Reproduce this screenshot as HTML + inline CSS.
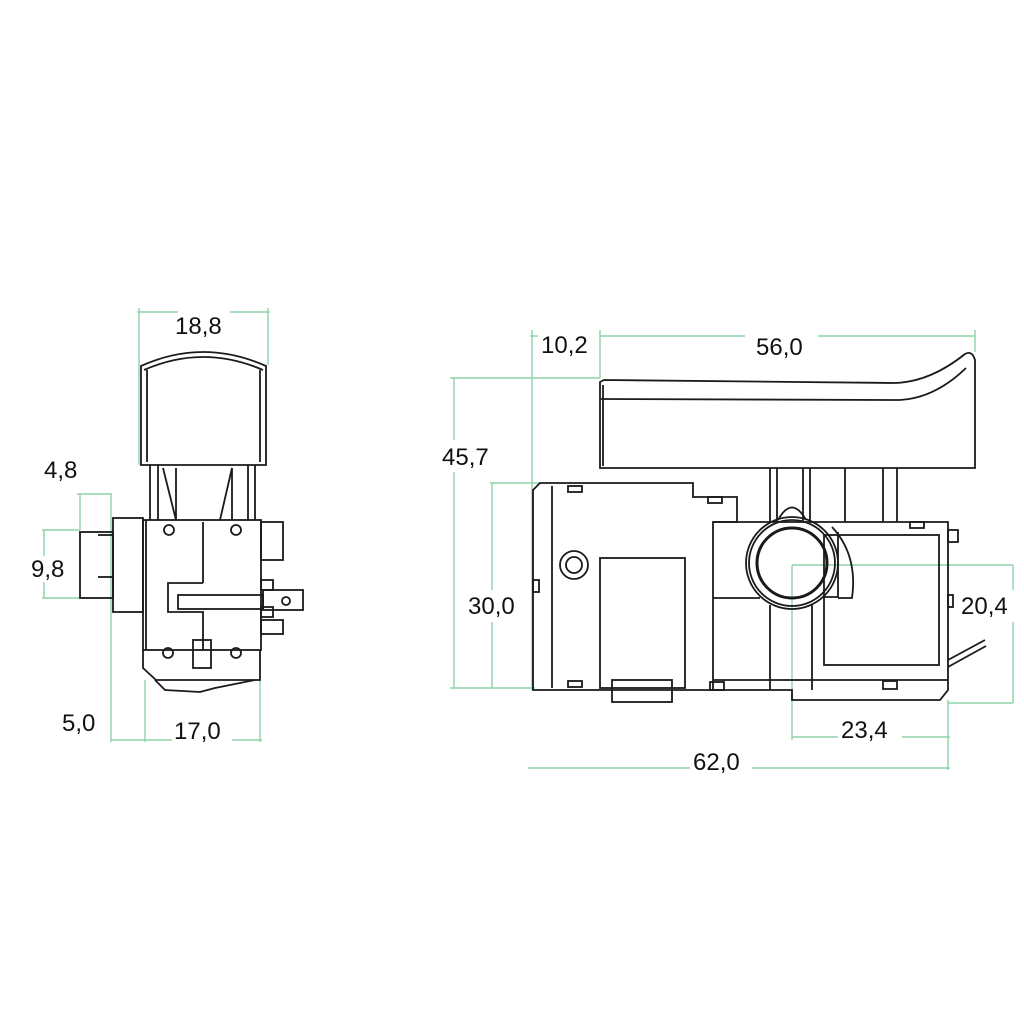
<!DOCTYPE html>
<html><head><style>
html,body{margin:0;padding:0;background:#fff;width:1024px;height:1024px;overflow:hidden}
svg{display:block}
text{font-family:"Liberation Sans",sans-serif;font-size:24px;fill:#111}
</style></head><body>
<svg width="1024" height="1024" viewBox="0 0 1024 1024">
<g stroke="#8fd3a8" stroke-width="1.4" fill="none">
<line x1="137" y1="312" x2="178" y2="312"/><line x1="230" y1="312" x2="270" y2="312"/>
<line x1="139" y1="308" x2="139" y2="465"/><line x1="268" y1="308" x2="268" y2="365"/>
<line x1="77" y1="494" x2="112" y2="494"/>
<line x1="80" y1="494" x2="80" y2="530"/><line x1="111" y1="494" x2="111" y2="742"/>
<line x1="42" y1="530" x2="80" y2="530"/><line x1="42" y1="598" x2="80" y2="598"/>
<line x1="44" y1="530" x2="44" y2="556"/><line x1="44" y1="582" x2="44" y2="598"/>
<line x1="145" y1="680" x2="145" y2="742"/><line x1="260" y1="680" x2="260" y2="742"/>
<line x1="110" y1="740" x2="172" y2="740"/><line x1="232" y1="740" x2="262" y2="740"/>
<line x1="530" y1="336" x2="538" y2="336"/><line x1="600" y1="336" x2="745" y2="336"/><line x1="818" y1="336" x2="975" y2="336"/>
<line x1="532" y1="330" x2="532" y2="690"/><line x1="600" y1="330" x2="600" y2="378"/><line x1="975" y1="330" x2="975" y2="352"/>
<line x1="450" y1="378" x2="600" y2="378"/>
<line x1="454" y1="378" x2="454" y2="440"/><line x1="454" y1="472" x2="454" y2="688"/>
<line x1="450" y1="688" x2="535" y2="688"/>
<line x1="490" y1="483" x2="540" y2="483"/>
<line x1="492" y1="483" x2="492" y2="590"/><line x1="492" y1="622" x2="492" y2="688"/>
<line x1="792" y1="565" x2="1013" y2="565"/><line x1="1013" y1="565" x2="1013" y2="590"/><line x1="1013" y1="622" x2="1013" y2="703"/>
<line x1="948" y1="703" x2="1013" y2="703"/>
<line x1="792" y1="565" x2="792" y2="740"/>
<line x1="948" y1="700" x2="948" y2="770"/>
<line x1="792" y1="737" x2="838" y2="737"/><line x1="902" y1="737" x2="950" y2="737"/>
<line x1="528" y1="768" x2="690" y2="768"/><line x1="752" y1="768" x2="950" y2="768"/>
</g>
<g>
<text x="175" y="334">18,8</text>
<text x="44" y="478">4,8</text>
<text x="31" y="577">9,8</text>
<text x="62" y="731">5,0</text>
<text x="174" y="739">17,0</text>
<text x="541" y="353">10,2</text>
<text x="756" y="355">56,0</text>
<text x="442" y="465">45,7</text>
<text x="468" y="614">30,0</text>
<text x="961" y="614">20,4</text>
<text x="841" y="738">23,4</text>
<text x="693" y="770">62,0</text>
</g>
<g stroke="#1a1a1a" stroke-width="1.8" fill="none">
<path d="M141 366 Q203 338 266 366 L266 465 L141 465 Z"/>
<path d="M144 370 Q203 344 263 370"/>
<line x1="147" y1="370" x2="147" y2="462"/><line x1="260" y1="370" x2="260" y2="462"/>
<line x1="150" y1="465" x2="150" y2="520"/><line x1="158" y1="465" x2="158" y2="520"/>
<line x1="248" y1="465" x2="248" y2="520"/><line x1="255" y1="465" x2="255" y2="520"/>
<path d="M163 468 L176 520 M176 468 L176 520 M232 468 L232 520 M232 468 L220 520"/>
<rect x="113" y="518" width="30" height="94"/>
<rect x="80" y="532" width="33" height="66"/>
<line x1="98" y1="535" x2="113" y2="535"/><line x1="98" y1="577" x2="113" y2="577"/>
<rect x="143" y="520" width="118" height="130"/>
<line x1="146" y1="520" x2="146" y2="650"/>
<line x1="203" y1="522" x2="203" y2="583"/>
<path d="M203 583 L168 583 L168 612 L203 612 L203 650"/>
<rect x="178" y="595" width="85" height="14"/>
<rect x="261" y="522" width="22" height="38"/>
<rect x="261" y="580" width="12" height="10"/><rect x="261" y="607" width="12" height="10"/>
<rect x="261" y="620" width="22" height="14"/>
<rect x="263" y="590" width="40" height="20"/>
<circle cx="286" cy="601" r="4"/>
<rect x="193" y="640" width="18" height="28"/>
<circle cx="169" cy="530" r="5"/><circle cx="236" cy="530" r="5"/>
<circle cx="168" cy="653" r="5"/><circle cx="236" cy="653" r="5"/>
<path d="M143 650 L143 668 L156 680 L260 680 L260 650"/>
<path d="M155 680 L165 690 L200 692 L215 688 L255 680"/>
<path d="M600 382 L600 468 L975 468 L975 360 Q972 350 965 354 Q930 382 895 383 L604 380 Z"/>
<path d="M601 399 L900 400 Q935 398 966 368"/>
<line x1="603" y1="385" x2="603" y2="466"/>
<line x1="770" y1="468" x2="770" y2="522"/><line x1="777" y1="468" x2="777" y2="522"/>
<line x1="803" y1="468" x2="803" y2="522"/><line x1="810" y1="468" x2="810" y2="522"/>
<line x1="845" y1="468" x2="845" y2="522"/><line x1="883" y1="468" x2="883" y2="522"/><line x1="897" y1="468" x2="897" y2="522"/>
<path d="M778 520 Q792 495 806 520"/>
<path d="M540 483 L693 483 L693 497 L737 497 L737 522 L713 522 L713 690 L533 690 L533 490 Z"/>
<line x1="552" y1="486" x2="552" y2="688"/>
<rect x="600" y="558" width="85" height="130"/>
<circle cx="574" cy="565" r="14"/><circle cx="574" cy="565" r="8"/>
<rect x="612" y="680" width="60" height="22"/>
<rect x="568" y="486" width="14" height="6"/><rect x="708" y="497" width="14" height="6"/>
<rect x="568" y="681" width="14" height="6"/><rect x="533" y="580" width="6" height="12"/>
<path d="M713 522 L948 522 L948 690 L940 700 L792 700 L792 690 L713 690"/>
<rect x="948" y="530" width="10" height="12"/><rect x="948" y="595" width="5" height="12"/>
<path d="M948 660 L985 640 M948 667 L986 646"/>
<rect x="824" y="535" width="115" height="130"/>
<path d="M838 532 L838 597 L824 597"/>
<line x1="713" y1="598" x2="760" y2="598"/>
<line x1="770" y1="605" x2="770" y2="690"/><line x1="812" y1="605" x2="812" y2="690"/>
<line x1="713" y1="680" x2="948" y2="680"/>
<rect x="710" y="682" width="14" height="8"/><rect x="883" y="681" width="14" height="8"/><rect x="910" y="522" width="14" height="6"/>
<circle cx="792" cy="563" r="46"/><circle cx="792" cy="563" r="43"/>
<circle cx="792" cy="563" r="35" stroke-width="3"/>
<path d="M832 527 Q858 555 852 598 L838 598"/>
</g>
</svg>
</body></html>
